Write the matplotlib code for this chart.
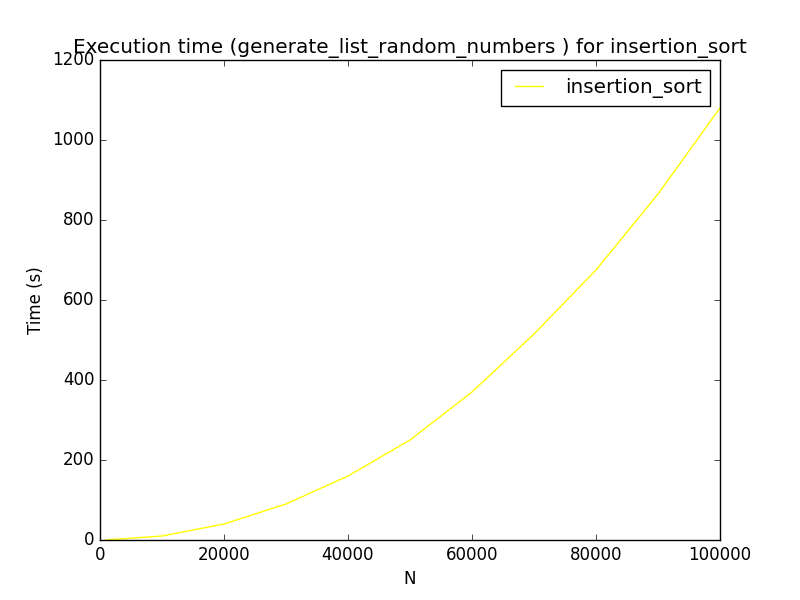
import matplotlib
matplotlib.use('Agg')
import matplotlib.pyplot as plt

plt.style.use('classic')

n_values = [1000, 10000, 20000, 30000, 40000, 50000, 60000, 70000, 80000, 90000, 100000]
times = [0.1, 10, 40, 90, 160, 250, 370, 515, 675, 865, 1080]

fig, ax = plt.subplots(figsize=(8, 6), dpi=100)
ax.plot(n_values, times, color='yellow', label='insertion_sort')
ax.set_title('Execution time (generate_list_random_numbers ) for insertion_sort')
ax.set_xlabel('N')
ax.set_ylabel('Time (s)')
ax.set_xlim(0, 100000)
ax.set_ylim(0, 1200)
ax.legend()
fig.savefig('out.png', dpi=100)
